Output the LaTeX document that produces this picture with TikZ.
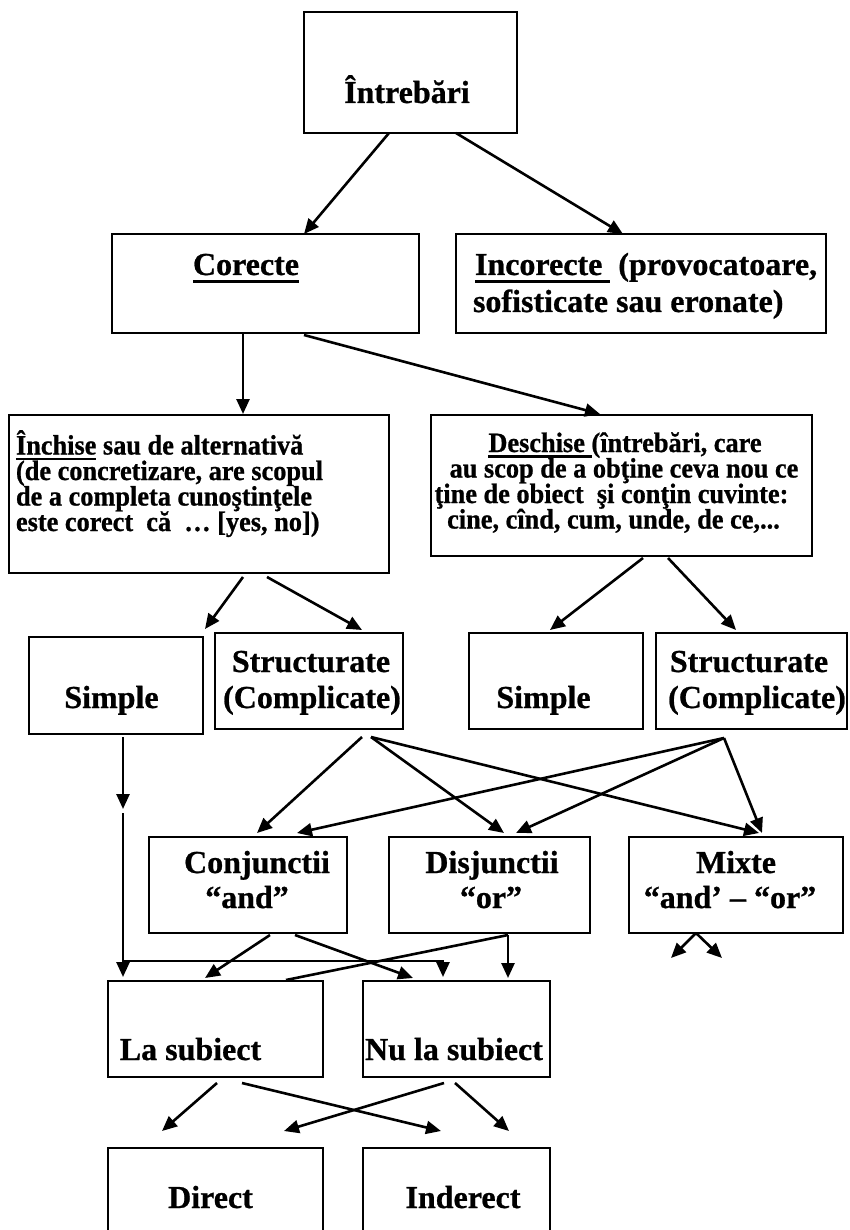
\documentclass[tikz,border=0pt]{standalone}
\usepackage{fontspec}
\setmainfont{Liberation Serif}[BoldFeatures={FakeBold=0.8}]
\newfontfamily\condfont{Liberation Serif}[FakeStretch=0.94,BoldFeatures={FakeBold=0.8}]
\usetikzlibrary{arrows.meta,calc}
\newcommand{\bigf}{\fontsize{32}{36}\selectfont\bfseries}
\newcommand{\smf}{\condfont\fontsize{28}{25.5}\selectfont\bfseries}
\newcommand{\ulbig}[1]{\setbox0\hbox{#1}\rlap{\rule[-8pt]{\wd0}{2.7pt}}\box0\relax}
\newcommand{\ulsm}[1]{\setbox0\hbox{#1}\rlap{\rule[-5.5pt]{\wd0}{2.4pt}}\box0\relax}
\begin{document}
\begin{tikzpicture}[x=1pt,y=-1pt,
  box/.style={draw,line width=2pt,inner sep=0pt,outer sep=0pt},
  txt/.style={inner sep=0pt,outer sep=0pt,font=\bigf},
  stxt/.style={inner sep=0pt,outer sep=0pt,font=\smf},
  conn/.style={line width=2.6pt},
  arr/.style={conn,-{Triangle[length=15pt,width=13pt]}}]
\useasboundingbox (0,0) rectangle (849,1230);
% boxes
\node[box,minimum width=213,minimum height=121] (intr) at (410.5,72.5) {};
\node[box,minimum width=307,minimum height=99] (cor) at (265.5,283.5) {};
\node[box,minimum width=370,minimum height=99] (inc) at (641,283.5) {};
\node[box,minimum width=380,minimum height=158] (inch) at (199,494) {};
\node[box,minimum width=381,minimum height=141] (desch) at (621.5,485.5) {};
\node[box,minimum width=174,minimum height=97] (simp1) at (116,685.5) {};
\node[box,minimum width=188,minimum height=96] (str1) at (309,681) {};
\node[box,minimum width=174,minimum height=96] (simp2) at (556,681) {};
\node[box,minimum width=191,minimum height=96] (str2) at (751.5,681) {};
\node[box,minimum width=198,minimum height=96] (conj) at (248,885) {};
\node[box,minimum width=201,minimum height=96] (disj) at (489.5,885) {};
\node[box,minimum width=214,minimum height=96] (mixte) at (736,885) {};
\node[box,minimum width=215,minimum height=96] (las) at (215.5,1029) {};
\node[box,minimum width=187,minimum height=96] (nulas) at (456.5,1029) {};
\node[box,minimum width=215,minimum height=86] (direct) at (215.5,1191) {};
\node[box,minimum width=187,minimum height=86] (indir) at (456.5,1191) {};
% texts
\node[txt,anchor=base] (tintr) at (407,103) {Întrebări};
\node[txt,anchor=base] (tcor) at (246,275) {\ulbig{Corecte}};
\node[txt,anchor=base west] (tinc1) at (475,275) {\ulbig{Incorecte\ }\ (provocatoare,};
\node[txt,anchor=base west] (tinc2) at (473,312) {sofisticate sau eronate)};
\node[stxt,anchor=base west] (tinch1) at (16,454.5) {\ulsm{Închise} sau de alternativă};
\node[stxt,anchor=base west] (tinch2) at (16,480) {(de concretizare, are scopul};
\node[stxt,anchor=base west] (tinch3) at (16,505.5) {de a completa cunoştinţele};
\node[stxt,anchor=base west] (tinch4) at (16,531) {este corect\ \ că\ \ … [yes, no])};
\node[stxt,anchor=base] (tdes1) at (625,452) {\ulsm{Deschise }(întrebări, care};
\node[stxt,anchor=base] (tdes2) at (624,477.5) {au scop de a obţine ceva nou ce};
\node[stxt,anchor=base] (tdes3) at (611.5,503) {ţine de obiect\ \ şi conţin cuvinte:};
\node[stxt,anchor=base] (tdes4) at (613.5,528.5) {cine, cînd, cum, unde, de ce,...};
\node[txt,anchor=base] (tsimp1) at (111.5,708) {Simple};
\node[txt,anchor=base] (tstr1a) at (311,672) {Structurate};
\node[txt,anchor=base] (tstr1b) at (312,708) {(Complicate)};
\node[txt,anchor=base] (tsimp2) at (543.5,708) {Simple};
\node[txt,anchor=base] (tstr2a) at (749,672) {Structurate};
\node[txt,anchor=base] (tstr2b) at (757,708) {(Complicate)};
\node[txt,anchor=base] (tconj1) at (257,873) {Conjunctii};
\node[txt,anchor=base] (tconj2) at (247,908) {“and”};
\node[txt,anchor=base] (tdisj1) at (492,873) {Disjunctii};
\node[txt,anchor=base] (tdisj2) at (491,908) {“or”};
\node[txt,anchor=base] (tmix1) at (736,873) {Mixte};
\node[txt,anchor=base] (tmix2) at (730,908) {“and’ – “or”};
\node[txt,anchor=base] (tlas) at (190.5,1060) {La subiect};
\node[txt,anchor=base] (tnulas) at (454,1060) {Nu la subiect};
\node[txt,anchor=base] (tdir) at (210.5,1208) {Direct};
\node[txt,anchor=base] (tind) at (463,1208) {Inderect};
% free coordinates
\coordinate (k1) at ($(simp1.south west)+(94,75)$);
\coordinate (k2) at ($(simp1.south west)+(94,79)$);
\coordinate (h1) at ($(simp1.south west)+(94,227)$);
\coordinate (m1) at ($(mixte.south west)+(42,25)$);
\coordinate (m2) at ($(mixte.south west)+(93,25)$);
% connectors
\draw[arr] ($(intr.south west)+(85,0)$) -- ($(cor.north west)+(192,0)$);
\draw[arr] ($(intr.south west)+(152,0)$) -- ($(inc.north west)+(167,0)$);
\draw[arr] ($(cor.south west)+(131,0)$) -- ($(inch.north west)+(234,-1)$);
\draw[arr] ($(cor.south west)+(192,2)$) -- ($(desch.north west)+(169,-1)$);
\draw[arr] ($(inch.south west)+(234,4)$) -- ($(simp1.north west)+(176,-8)$);
\draw[arr] ($(inch.south west)+(258,4)$) -- ($(str1.north west)+(147,-3)$);
\draw[arr] ($(desch.south west)+(212,2)$) -- ($(simp2.north west)+(81,-3)$);
\draw[arr] ($(desch.south west)+(237,2)$) -- ($(str2.north west)+(80,-3)$);
\draw[arr] ($(simp1.south west)+(94,3)$) -- (k1);
\draw[arr] (k2) -- ($(las.north west)+(15,-4)$);
\draw[arr] (h1) -| ($(nulas.north west)+(80,-4)$);
\draw[arr] ($(str1.south west)+(147,8)$) -- ($(conj.north west)+(108,-4)$);
\draw[arr] ($(str1.south west)+(156,8)$) -- ($(disj.north west)+(115,-4)$);
\draw[arr] ($(str1.south west)+(156,8)$) -- ($(mixte.north west)+(130,-4)$);
\draw[arr] ($(str2.south west)+(68,9)$) -- ($(conj.north west)+(148,-4)$);
\draw[arr] ($(str2.south west)+(68,9)$) -- ($(disj.north west)+(127,-4)$);
\draw[arr] ($(str2.south west)+(68,9)$) -- ($(mixte.north west)+(133,-4)$);
\draw[arr] ($(conj.south west)+(121,2)$) -- ($(las.north west)+(97,-3)$);
\draw[arr] ($(conj.south west)+(146,2)$) -- ($(nulas.north west)+(50,-3)$);
\draw[conn] ($(disj.south west)+(119,2)$) -- ($(las.north west)+(178,-1)$);
\draw[arr] ($(disj.south west)+(119,2)$) -- ($(nulas.north west)+(145,-3)$);
\draw[arr] ($(mixte.south west)+(67,0)$) -- (m1);
\draw[arr] ($(mixte.south west)+(67,0)$) -- (m2);
\draw[arr] ($(las.south west)+(109,6)$) -- ($(direct.north west)+(54,-17)$);
\draw[arr] ($(las.south west)+(134,6)$) -- ($(indir.north west)+(78,-17)$);
\draw[arr] ($(nulas.south west)+(81,6)$) -- ($(direct.north west)+(176,-17)$);
\draw[arr] ($(nulas.south west)+(92,6)$) -- ($(indir.north west)+(146,-17)$);
\end{tikzpicture}
\end{document}
